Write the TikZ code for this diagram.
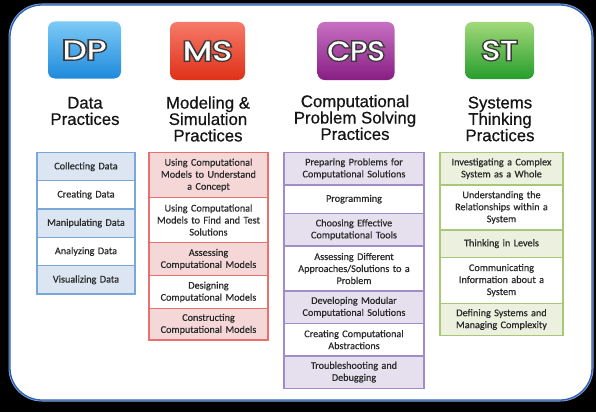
\documentclass[tikz,border=0pt]{standalone}
\usepackage{fontspec}
\setmainfont{Liberation Sans}
\newfontfamily\titlefont[FakeBold=0.6]{Liberation Sans}
\newfontfamily\cellfont[FakeBold=0.5]{Carlito}
\newfontfamily\iconfont[FakeBold=0.5]{Poppins}
\newfontfamily\iconfontline[FakeBold=11]{Poppins}
\definecolor{panelblue}{HTML}{2F62B8}
\definecolor{dpB}{HTML}{7AA7DA}\definecolor{dpF}{HTML}{DCE6F2}
\definecolor{msB}{HTML}{E8706E}\definecolor{msF}{HTML}{F4D7D6}
\definecolor{cpB}{HTML}{A08CC8}\definecolor{cpF}{HTML}{E6E0EE}
\definecolor{stB}{HTML}{A8C878}\definecolor{stF}{HTML}{EBF1DE}
\definecolor{celltext}{HTML}{2A2A2A}
\definecolor{titletext}{HTML}{151515}
\definecolor{iconline}{HTML}{3A3A3A}
\tikzset{
  cellbox/.style={rectangle, line width=1.2pt, inner sep=0pt, outer sep=0pt,
    align=center, text=celltext, font=\cellfont\fontsize{10.2}{12}\selectfont},
  iconbox/.style={rounded corners=7pt, inner sep=0pt, draw=none},
  icontext/.style={inner sep=0pt, text=white, font=\iconfont\fontsize{27}{27}\selectfont},
  iconoutline/.style={inner sep=0pt, text=iconline, font=\iconfontline\fontsize{27}{27}\selectfont},
  titlebox/.style={align=center, text=titletext, inner sep=0pt,
    font=\titlefont\fontsize{16.8}{16.4}\selectfont}
}
% name, x1, y1, x2, y2, fill, border, text
\newcommand\mkcell[8]{%
  \node[cellbox, fill=#6, draw=#7, minimum width={(#4-#2)*1pt}, minimum height={(#5-#3)*1pt},
    text width={(#4-#2-4)*1pt}] (#1) at ({(#2+#4)/2},{(#3+#5)/2}) {#8};}
% name, x, y, width, height, top colour, bottom colour, text, horizontal scale
\newcommand\mkicon[9]{%
  \node[iconbox, top color=#6, bottom color=#7, minimum width=#4pt, minimum height=#5pt] (#1) at (#2,#3) {};
  \node[iconoutline] (#1o) at (#1.center) {\scalebox{#9}[1]{#8}};
  \node[icontext] (#1t) at (#1.center) {\scalebox{#9}[1]{#8}};}
\begin{document}
\begin{tikzpicture}[x=1pt,y=-1pt]
\useasboundingbox (0,0) rectangle (596,412);
\fill[black] (0,0) rectangle (596,412);
\draw[panelblue!60, line width=3pt, rounded corners=32pt] (10,5) rectangle (592,400);
\draw[panelblue, fill=white, line width=1.3pt, rounded corners=32pt] (10,5) rectangle (592,400);

% icons
\mkicon{dp}{84.5}{50}{73}{57}{{rgb,255:red,125;green,202;blue,246}}{{rgb,255:red,30;green,138;blue,220}}{DP}{1.27}
\mkicon{ms}{207.5}{51}{75}{58}{{rgb,255:red,246;green,122;blue,104}}{{rgb,255:red,224;green,48;blue,24}}{MS}{1.26}
\mkicon{cps}{356}{51}{77}{58}{{rgb,255:red,198;green,112;blue,194}}{{rgb,255:red,136;green,30;blue,132}}{CPS}{1.10}
\mkicon{st}{499.5}{50.5}{69}{57}{{rgb,255:red,162;green,216;blue,122}}{{rgb,255:red,38;green,158;blue,44}}{ST}{1.17}

% titles
\node[titlebox] (tdp) at (85,111) {Data\\Practices};
\node[titlebox] (tms) at (208,119) {Modeling \&\\Simulation\\Practices};
\node[titlebox] (tcps) at (355,117.5) {Computational\\Problem Solving\\Practices};
\node[titlebox] (tst) at (500,119) {Systems\\Thinking\\Practices};

% DP column
\mkcell{dp1}{37}{152.7}{135}{180.7}{dpF}{dpB}{Collecting Data}
\mkcell{dp2}{37}{180.7}{135}{209}{white}{dpB}{Creating Data}
\mkcell{dp3}{37}{209}{135}{237.3}{dpF}{dpB}{Manipulating Data}
\mkcell{dp4}{37}{237.3}{135}{265.7}{white}{dpB}{Analyzing Data}
\mkcell{dp5}{37}{265.7}{135}{294}{dpF}{dpB}{Visualizing Data}

% MS column
\mkcell{ms1}{149}{152.7}{268}{197.3}{msF}{msB}{Using Computational\\Models to Understand\\a Concept}
\mkcell{ms2}{149}{197.3}{268}{242.7}{white}{msB}{Using Computational\\Models to Find and Test\\Solutions}
\mkcell{ms3}{149}{242.7}{268}{275.7}{msF}{msB}{Assessing\\Computational Models}
\mkcell{ms4}{149}{275.7}{268}{308.3}{white}{msB}{Designing\\Computational Models}
\mkcell{ms5}{149}{308.3}{268}{340}{msF}{msB}{Constructing\\Computational Models}

% CPS column
\mkcell{cp1}{284}{152.3}{424}{185}{cpF}{cpB}{Preparing Problems for\\Computational Solutions}
\mkcell{cp2}{284}{185}{424}{213.3}{white}{cpB}{Programming}
\mkcell{cp3}{284}{213.3}{424}{246}{cpF}{cpB}{Choosing Effective\\Computational Tools}
\mkcell{cp4}{284}{246}{424}{291}{white}{cpB}{Assessing Different\\Approaches/Solutions to a\\Problem}
\mkcell{cp5}{284}{291}{424}{323.3}{cpF}{cpB}{Developing Modular\\Computational Solutions}
\mkcell{cp6}{284}{323.3}{424}{356}{white}{cpB}{Creating Computational\\Abstractions}
\mkcell{cp7}{284}{356}{424}{388.3}{cpF}{cpB}{Troubleshooting and\\Debugging}

% ST column
\mkcell{st1}{440}{152.3}{563}{185}{stF}{stB}{Investigating a Complex\\System as a Whole}
\mkcell{st2}{440}{185}{563}{230}{white}{stB}{Understanding the\\Relationships within a\\System}
\mkcell{st3}{440}{230}{563}{257.3}{stF}{stB}{Thinking in Levels}
\mkcell{st4}{440}{257.3}{563}{303.3}{white}{stB}{Communicating\\Information about a\\System}
\mkcell{st5}{440}{303.3}{563}{335.7}{stF}{stB}{Defining Systems and\\Managing Complexity}
\end{tikzpicture}
\end{document}
